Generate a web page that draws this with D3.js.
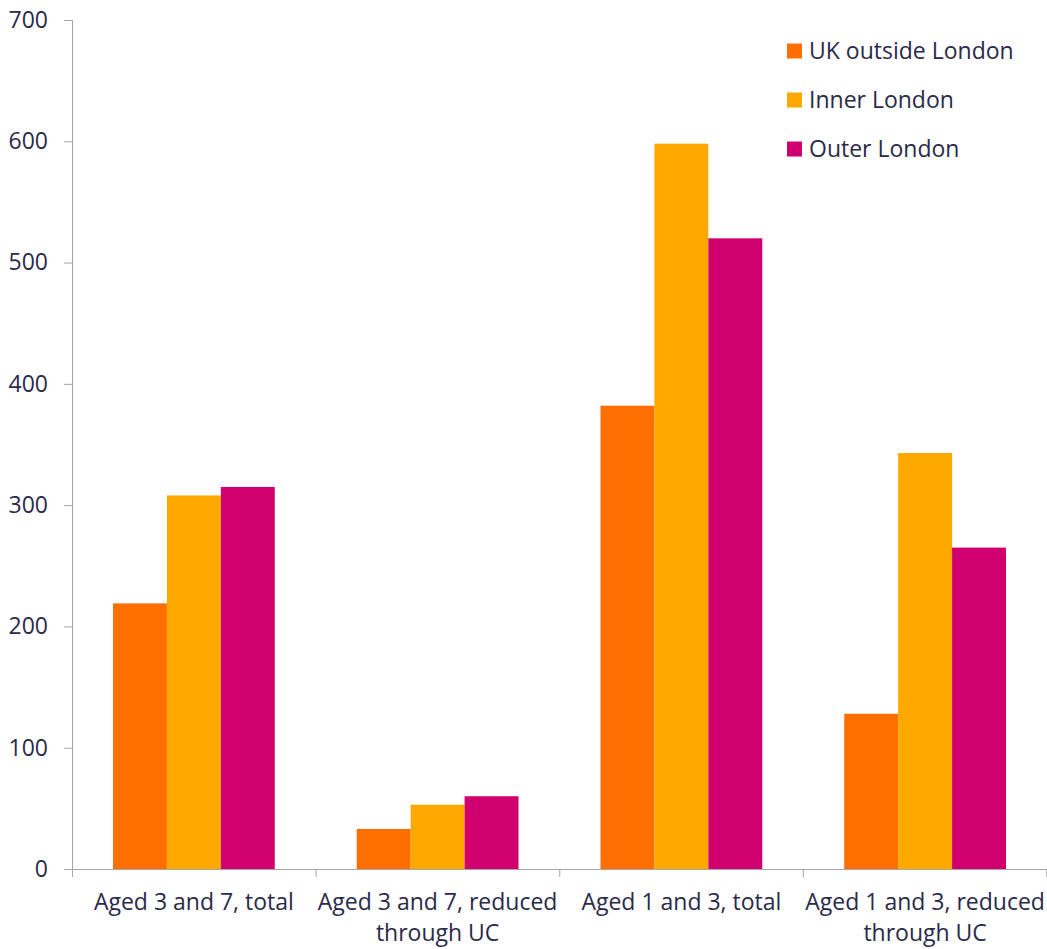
<!DOCTYPE html>
<html>
<head>
<meta charset="utf-8">
<script src="https://cdn.jsdelivr.net/npm/d3@7"></script>
<style>
  body { margin: 0; background: #fff; }
  svg text { font-family: "Open Sans", sans-serif; fill: #2b2a4a; }
</style>
</head>
<body>
<svg id="chart" width="1047" height="949"></svg>
<script>
const categories = [
  ["Aged 3 and 7, total"],
  ["Aged 3 and 7, reduced", "through UC"],
  ["Aged 1 and 3, total"],
  ["Aged 1 and 3, reduced", "through UC"]
];
const seriesNames = ["UK outside London", "Inner London", "Outer London"];
const seriesColors = ["#ff6e00", "#ffa800", "#d1006f"];
const ukOutside = [219, 33, 382, 128];
const innerLondon = [308, 53, 598, 343];
const outerLondon = [315, 60, 520, 265];
const yTicks = [0, 100, 200, 300, 400, 500, 600, 700];

const series = [ukOutside, innerLondon, outerLondon];

const svg = d3.select('#chart');
const margin = { left: 72, right: 0, top: 20, bottom: 80 };
const width = 1047, height = 949;
const plotBottom = 869;

const x = d3.scaleBand()
  .domain(d3.range(categories.length))
  .range([margin.left, width])
  .paddingInner(0)
  .paddingOuter(0);

const inner = d3.scaleBand()
  .domain(d3.range(series.length))
  .range([0, x.bandwidth()])
  .paddingInner(0)
  .paddingOuter(0.76);

const y = d3.scaleLinear().domain([0, 700]).range([plotBottom, margin.top]);

// bars
categories.forEach((c, i) => {
  series.forEach((s, j) => {
    svg.append('rect')
      .attr('x', x(i) + inner(j))
      .attr('y', y(s[i]))
      .attr('width', inner.bandwidth())
      .attr('height', plotBottom - y(s[i]))
      .attr('fill', seriesColors[j]);
  });
});

// y axis
const yAxis = svg.append('g')
  .attr('transform', `translate(${margin.left},0)`)
  .call(d3.axisLeft(y).tickValues(yTicks).tickSize(8).tickPadding(16));
yAxis.select('.domain').attr('stroke', '#a6a6a6');
yAxis.selectAll('.tick line').attr('stroke', '#a6a6a6');
yAxis.selectAll('.tick text')
  .style('font-size', '23px')
  .attr('fill', '#2b2a4a');

// x axis
const xAxis = svg.append('g')
  .attr('transform', `translate(0,${plotBottom})`)
  .call(d3.axisBottom(d3.scaleLinear().domain([0, categories.length]).range([margin.left, width - 0.5]))
    .tickValues(d3.range(categories.length + 1)).tickSize(8).tickFormat(''));
xAxis.select('.domain').attr('stroke', '#a6a6a6');
xAxis.selectAll('.tick line').attr('stroke', '#a6a6a6');

categories.forEach((lines, i) => {
  const t = svg.append('text')
    .attr('text-anchor', 'middle')
    .style('font-size', '23px');
  lines.forEach((ln, k) => {
    t.append('tspan')
      .attr('x', x(i) + x.bandwidth() / 2)
      .attr('y', 910 + k * 31)
      .text(ln);
  });
});

// legend
const legend = svg.append('g').attr('transform', 'translate(787,0)');
seriesNames.forEach((name, j) => {
  const gy = 51 + j * 49;
  legend.append('rect')
    .attr('x', 0).attr('y', gy - 7.5)
    .attr('width', 15).attr('height', 15)
    .attr('fill', seriesColors[j]);
  legend.append('text')
    .attr('x', 22).attr('y', gy + 8)
    .style('font-size', '23px')
    .text(name);
});
</script>
</body>
</html>
